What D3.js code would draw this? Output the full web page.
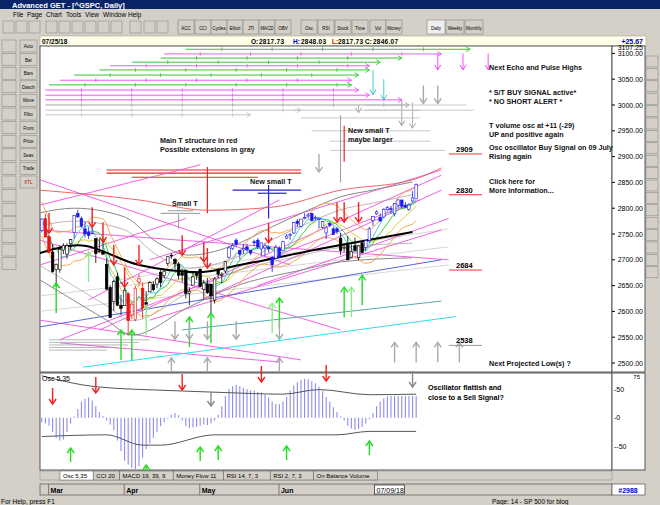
<!DOCTYPE html>
<html><head><meta charset="utf-8">
<script src="https://cdn.jsdelivr.net/npm/d3@7/dist/d3.min.js"></script>
<style>body{margin:0;background:#d4d0c8;}svg{display:block;font-family:"Liberation Sans",Arial,sans-serif;}</style>
</head><body><svg id="c" width="660" height="505"></svg>
<script>
// ---------- DATA ----------
const dates = ("02/26 02/27 02/28 03/01 03/02 03/05 03/06 03/07 03/08 03/09 03/12 03/13 03/14 03/15 03/16 03/19 03/20 03/21 03/22 03/23 03/26 03/27 03/28 03/29 "+
"04/02 04/03 04/04 04/05 04/06 04/09 04/10 04/11 04/12 04/13 04/16 04/17 04/18 04/19 04/20 04/23 04/24 04/25 04/26 04/27 04/30 "+
"05/01 05/02 05/03 05/04 05/07 05/08 05/09 05/10 05/11 05/14 05/15 05/16 05/17 05/18 05/21 05/22 05/23 05/24 05/25 05/29 05/30 05/31 "+
"06/01 06/04 06/05 06/06 06/07 06/08 06/11 06/12 06/13 06/14 06/15 06/18 06/19 06/20 06/21 06/22 06/25 06/26 06/27 06/28 06/29 "+
"07/02 07/03 07/05 07/06 07/09 07/10 07/11 07/12 07/13 07/16 07/17 07/18 07/19 07/20 07/23 07/24 07/25").split(" ");
const open = [2757,2780,2745, 2715,2681,2681,2719,2711,2731,2753,2790,2780,2760,2754,2752,2741,2716,2715,2691,2646,2619,2667,2612,2611,
2634,2593,2584,2657,2645,2617,2638,2652,2653,2676,2670,2693,2709,2701,2692,2675,2680,2635,2651,2675,2682,
2643,2653,2653,2622,2680,2670,2678,2705,2722,2738,2718,2719,2725,2718,2735,2738,2721,2723,2724,2705,2703,2722,
2718,2742,2749,2752,2775,2765,2780,2785,2790,2780,2778,2763,2752,2770,2760,2760,2742,2722,2729,2705,2727,
2704,2733,2724,2738,2776,2789,2782,2783,2797,2799,2789,2806,2816,2805,2798,2814,2818];
const high = [2780,2789,2747, 2730,2693,2728,2732,2732,2740,2787,2797,2784,2774,2764,2762,2741,2740,2740,2703,2651,2661,2675,2632,2660,
2638,2618,2650,2672,2656,2639,2659,2658,2666,2680,2683,2707,2713,2703,2696,2683,2669,2647,2677,2676,2682,
2661,2665,2653,2666,2684,2676,2698,2726,2732,2742,2719,2731,2731,2719,2739,2742,2733,2732,2727,2707,2729,2726,
2737,2750,2752,2772,2779,2779,2790,2791,2791,2786,2782,2775,2766,2774,2764,2764,2752,2732,2746,2730,2743,
2729,2737,2737,2764,2784,2796,2790,2800,2804,2804,2810,2817,2816,2812,2809,2833,2848];
const low = [2753,2744,2713, 2675,2648,2675,2711,2702,2720,2741,2782,2762,2743,2740,2750,2694,2714,2709,2642,2588,2601,2610,2593,2611,
2553,2585,2581,2649,2586,2606,2640,2639,2645,2647,2664,2688,2702,2682,2662,2657,2625,2612,2653,2661,2648,
2625,2634,2594,2615,2664,2655,2674,2702,2719,2725,2701,2711,2716,2709,2726,2721,2708,2707,2714,2676,2702,2704,
2718,2740,2739,2750,2763,2763,2780,2780,2775,2776,2761,2760,2740,2763,2748,2750,2709,2716,2699,2703,2718,
2699,2714,2716,2733,2765,2787,2775,2782,2795,2789,2784,2801,2800,2800,2795,2812,2818];
const close = [2779,2744,2714, 2677,2691,2720,2728,2727,2739,2786,2783,2765,2750,2747,2752,2712,2717,2711,2643,2588,2658,2612,2606,2641,
2582,2614,2645,2663,2604,2613,2656,2642,2663,2656,2678,2706,2708,2693,2670,2670,2635,2639,2667,2670,2648,
2655,2636,2630,2663,2672,2672,2697,2723,2728,2730,2711,2722,2720,2713,2733,2725,2733,2727,2721,2690,2724,2705,
2735,2746,2749,2772,2770,2779,2782,2787,2776,2782,2780,2774,2762,2767,2749,2755,2718,2724,2700,2716,2718,
2727,2714,2737,2760,2784,2793,2775,2798,2801,2798,2809,2816,2804,2802,2806,2820,2846];
const trend = ("brr"+"kkkkkk"+"bbbbbb"+"kkk"+"kkkkkk"+"rrrrr"+"kkkkk"+"kkkkkkkkkkk"+"kkkkkkk"+"bbbbbbbbbbbbbbb"+"bbbbbbbbbbbbbbbb"+"kkkkk"+"kk"+"bbbbbbbbbbbbbbb").split("");
const osc = [-8,-10,-14,-25,-35,-40,-38,-25,-10,2,15,28,33,35,30,20,10,3,-5,-12,-22,-40,-58,-75,-82,-88,-90,-85,-70,-55,-45,-35,-25,-15,-8,-2,5,8,4,-5,-15,-18,-17,-16,-14,-12,-13,-10,-5,5,20,38,50,55,57,55,52,50,48,47,45,44,40,35,28,24,24,28,36,48,56,62,66,68,67,64,60,54,46,36,28,18,10,2,-5,-14,-19,-21,-20,-16,-10,-3,8,20,28,34,37,38,38,38,38,38,38,38,38];
const oscUpper = [[0,73],[15,54],[37,47],[50,44],[67,41],[77,49],[91,40],[104,41]];
const oscLower = [[0,-33],[18,-30],[28,-48],[33,-48],[48,-30],[82,-30],[91,-24],[104,-24]];
const priceTicks = [3100,3050,3000,2950,2900,2850,2800,2750,2700,2650,2600,2550,2500];
const oscTicks = [50,0,-50];
const monthTicks = [["Mar",3],["Apr",24],["May",45],["Jun",67]];
const blackMA = [[-0.5,2713],[10,2728],[27,2690],[44,2676],[55,2690],[80,2725],[103,2754]];
const redBand = [[-0.5,2835],[27,2816],[46,2796],[64,2802],[83,2835],[103,2855],[111,2878]];
const grayUpper = [[-0.5,2791],[9,2800],[23,2783],[32,2734],[41,2709],[55,2733],[64,2764],[74,2796],[83,2822],[92,2835],[103,2851]];
const grayLower = [[-0.5,2661],[18,2583],[25,2554],[41,2609],[53,2647],[72,2680],[83,2696],[103,2704]];
const trendLines = [[-0.5,2855,69,2690],[-0.5,2738,83,2564],[-0.5,2583,72,2506],[5,2545,105,2816],[16,2564,111,2864],[30,2583,111,2758],
[44,2622,111,2835],[13,2622,66,2816],[-0.5,2758,113,2700],[5,2539,66,2502],[-0.5,2806,44,2884],[30,2700,111,2874],[60,2650,113,2780],[-0.5,2690,40,2780]];
const grayLines = [[-0.5,2630,113,2725],[-0.5,2600,113,2690],[20,2660,113,2760]];
const blueLine = [-0.5,2570,111,2700];
const cyanLine = [11.5,2492,115,2590];
const tealLine = [39,2564,111,2620];
const redDown = [[2,2752],[14,2763],[17,2734],[20,2690],[23,2647],[27,2690],[39,2709],[45,2696],[46,2684],[63,2733],[82,2773],[84,2773],[88,2773]];
const greenUp = [[4,2655],[13,2715],[22,2564],[25,2564],[29,2612],[41,2589],[47,2597],[64,2616],[66,2626],[84,2647],[86,2647],[89,2670]];
const grayDown = [[37,2546],[41,2546],[46,2546],[54,2546],[66,2546],[77,2870],[106,3003],[110,3003]];
const grayUp = [[36,2510],[46,2510],[66,2510],[98,2540],[104,2540],[110,2540],[116,2540]];
const pulseRows = [[3108,40,119,"#22bb22"],[3099,34,111,"#ee44ee"],[3091,33,100,"#22bb22"],[3083,25,94,"#22bb22"],[3076,19,91,"#ee44ee"],
[3068,16,91,"#22bb22"],[3058,9,88,"#22bb22"],[3048,5,86,"#ee44ee"],[3039,2,86,"#22bb22"],[3029,1,88,"#ee44ee"],[3019,1,91,"#ee44ee"],
[3010,1,100,"#ee44ee"],[3000,1,102,"#999"],[2990,1,72,"#bbb"],[2981,1,58,"#bbb"]];
const levels = [["2909",2909,"#e33"],["2830",2830,"#e33"],["2684",2684,"#e33"],["2538",2538,"#999"]];
const oscRed = [3,15,39,61,79]; const oscGray=[47,103]; const oscGreen=[8,29,44,49,68,91];

// ---------- SCALES ----------
const svg = d3.select("#c");
const L=40,R=612,T=46,B=372;
const x = d3.scaleLinear().domain([-0.5,158.4]).range([L,R]);
const y = d3.scaleLinear().domain([2500,3100]).range([363,53.4]);
const yo = d3.scaleLinear().domain([-50,50]).range([446.3,389]);

// ---------- WINDOW CHROME ----------
svg.append("rect").attr("width",660).attr("height",505).attr("fill","#d4d0c8");
svg.append("rect").attr("width",660).attr("height",9).attr("fill","#0a246a");
svg.append("text").attr("x",12).attr("y",7.5).attr("font-size",7.5).attr("font-weight","bold").attr("fill","#fff").text("Advanced GET - [^GSPC, Daily]");
["File","Page","Chart","Tools","View","Window","Help"].forEach((m,i)=>svg.append("text").attr("x",[13,27,46,66,85,103,128][i]).attr("y",17).attr("font-size",6.5).text(m));
const tb=[["ACC",178],["CCI",195],["Cycles",211],["Elliott",227],["JTI",243],["MACD",259],["OBV",275],["Osc",301],["RSI",318],["Stock",335],["Time",352],["Vol",370],["Money",386]];
tb.forEach(d=>{svg.append("rect").attr("x",d[1]).attr("y",20).attr("width",16).attr("height",14).attr("fill","#d4d0c8").attr("stroke","#808080").attr("stroke-width",0.6);
 svg.append("text").attr("x",d[1]+8).attr("y",29.5).attr("text-anchor","middle").attr("font-size",4.5).text(d[0]);});
[3,16,29,46,59,72,85,98,111,130,144,157].forEach(px=>svg.append("rect").attr("x",px).attr("y",21).attr("width",11).attr("height",12).attr("fill","#d4d0c8").attr("stroke","#808080").attr("stroke-width",0.5));
[["Daily",427],["Weekly",446],["Monthly",465]].forEach(d=>{svg.append("rect").attr("x",d[1]).attr("y",20).attr("width",18).attr("height",14).attr("fill",d[0]=="Daily"?"#eee":"#d4d0c8").attr("stroke","#808080").attr("stroke-width",0.6);
 svg.append("text").attr("x",d[1]+9).attr("y",29.5).attr("text-anchor","middle").attr("font-size",4.5).text(d[0]);});
// left toolbar
const lb=["Auto","Bar","Bars","Dasch","Move","Fibo","Front","Price","Seas","Trade","XTL"];
lb.forEach((t,i)=>{svg.append("rect").attr("x",20).attr("y",40+i*13.6).attr("width",17).attr("height",12).attr("fill","#d4d0c8").attr("stroke","#808080").attr("stroke-width",0.5);
 svg.append("text").attr("x",28.5).attr("y",48+i*13.6).attr("text-anchor","middle").attr("font-size",4.5).attr("fill",t=="XTL"?"#c00":"#000").text(t);});
for(let i=0;i<17;i++) svg.append("rect").attr("x",2).attr("y",40+i*13.6).attr("width",14).attr("height",12).attr("fill","#d4d0c8").attr("stroke","#808080").attr("stroke-width",0.5);
for(let i=0;i<18;i++) svg.append("rect").attr("x",646).attr("y",56+i*12.4).attr("width",12).attr("height",11).attr("fill","#d4d0c8").attr("stroke","#808080").attr("stroke-width",0.5);
// info bar
svg.append("rect").attr("x",L).attr("y",36).attr("width",606).attr("height",10).attr("fill","#ffffe8").attr("stroke","#999").attr("stroke-width",0.5);
svg.append("text").attr("x",42).attr("y",44).attr("font-size",6.5).attr("font-weight","bold").text("07/25/18");
const info=[["O:",251,"#000"],["2817.73",259,"#000"],["H:",293,"#00c"],["2848.03",301,"#000"],["L:",332,"#c00"],["2817.73",338,"#000"],["C:",365,"#000"],["2846.07",373,"#000"]];
info.forEach(d=>svg.append("text").attr("x",d[1]).attr("y",44).attr("font-size",6.5).attr("font-weight","bold").attr("fill",d[2]).attr("textLength",d[0].length>3?25:null).text(d[0]));
svg.append("text").attr("x",643).attr("y",44).attr("text-anchor","end").attr("font-size",7).attr("font-weight","bold").attr("fill","#00c").text("+25.67");

// ---------- MAIN PANEL ----------
svg.append("rect").attr("x",L).attr("y",T).attr("width",R-L).attr("height",B-T).attr("fill","#fff").attr("stroke","#555");
svg.append("rect").attr("x",R).attr("y",T).attr("width",33).attr("height",B-T).attr("fill","#fff").attr("stroke","#555");
const g = svg.append("g");
g.append("clipPath").attr("id","cp").append("rect").attr("x",L).attr("y",T).attr("width",R-L).attr("height",B-T);
const m = g.append("g").attr("clip-path","url(#cp)");
const seg=(d,c,w,op)=>m.append("line").attr("x1",x(d[0])).attr("y1",y(d[1])).attr("x2",x(d[2])).attr("y2",y(d[3])).attr("stroke",c).attr("stroke-width",w||0.8).attr("opacity",op||1);
const curve=(pts,c,w,op)=>m.append("path").attr("d",d3.line().x(p=>x(p[0])).y(p=>y(p[1])).curve(d3.curveMonotoneX)(pts)).attr("fill","none").attr("stroke",c).attr("stroke-width",w).attr("opacity",op||1);

pulseRows.forEach(r=>{seg([r[1],r[0],r[2],r[0]],r[3],0.9);
 const xe=x(r[2]),ye=y(r[0]);
 m.append("path").attr("d",`M${xe-4},${ye-2.5}L${xe},${ye}L${xe-4},${ye+2.5}`).attr("fill","none").attr("stroke",r[3]).attr("stroke-width",0.8);
 for(let k=r[1]+10;k<r[2]-3;k+=14) m.append("line").attr("x1",x(k)).attr("x2",x(k)).attr("y1",ye-2).attr("y2",ye+2).attr("stroke",r[3]).attr("stroke-width",0.7);});
[[92,3068,3020,"#3cc"],[95,3050,3010,"#3cc"],[100,3010,2960,"#999"],[103,3005,2955,"#aaa"],[110,3100,3068,"#e4e"],[117,3100,3068,"#e4e"],[124,3100,3068,"#e4e"],[88,3000,2985,"#aaa"]].forEach(a=>{
 seg([a[0],a[1],a[0],a[2]],a[3],0.9); const xe=x(a[0]),ye=y(a[2]);
 m.append("path").attr("d",`M${xe-3},${ye-5}L${xe},${ye}L${xe+3},${ye-5}`).attr("fill","none").attr("stroke",a[3]);});
[[70,2990,105,2990],[72,2975,105,2975],[75,2950,108,2950],[80,2930,108,2930],[90,2990,120,2990],[90,3000,118,3000],[80,2912,112,2912]].forEach(d=>seg(d,"#bbb",0.8));
[[18,2874,72,2874],[18,2868,72,2868],[25,2860,60,2860]].forEach(d=>seg(d,"#e22",1.2));
seg([46,2880,46,2790],"#e22",1.2); seg([84,2960,84,2890],"#e22",1.2);
[[53,2835,72,2835],[60,2829,68,2829]].forEach(d=>seg(d,"#22c",1.2)); seg([63,2845,63,2780],"#22c",1.2);
[[35,2795,42,2795],[33,2790,44,2790]].forEach(d=>seg(d,"#999",1)); seg([38,2788,38,2760],"#999",1);
seg([83,2980,83,2850],"#999",1);
grayLines.forEach(d=>seg(d,"#ccc",0.8));
trendLines.forEach(d=>seg(d,"#f050e0",0.9));
seg(blueLine,"#5566dd",1); seg(cyanLine,"#33ddee",1); seg(tealLine,"#55aaaa",1);
curve(redBand,"#e55",0.9); curve(grayUpper,"#888",1); curve(grayLower,"#888",1);
curve(grayUpper.map(p=>[p[0],p[1]-25]),"#a88",0.8,0.8); curve(grayLower.map(p=>[p[0],p[1]+28]),"#999",0.8,0.8);
const ma=(n)=>close.map((c,i)=>{const s=close.slice(Math.max(0,i-n+1),i+1);return [i,d3.mean(s)];});
const env=ma(10);
curve(env.map(p=>[p[0],p[1]*1.012]),"#f0a040",0.9); curve(env.map(p=>[p[0],p[1]*0.988]),"#f0a040",0.9);
curve(ma(13),"#e0d030",1); curve(ma(8),"#33cc33",1); curve(ma(5),"#44cccc",1);
curve(blackMA,"#000",2);
const col={b:"#1a1aee",r:"#ee1111",k:"#000"};
dates.forEach((d,i)=>{const c=col[trend[i]];const xc=x(i);
 m.append("line").attr("x1",xc).attr("x2",xc).attr("y1",y(high[i])).attr("y2",y(low[i])).attr("stroke",c).attr("stroke-width",0.8);
 const t=y(Math.max(open[i],close[i])),b=y(Math.min(open[i],close[i]));
 m.append("rect").attr("x",xc-1.3).attr("y",t).attr("width",2.6).attr("height",Math.max(0.8,b-t)).attr("fill",close[i]>=open[i]?"#fff":c).attr("stroke",c).attr("stroke-width",0.6);});
const arrow=(i,p,dir,c,len)=>{const xc=x(i),yt=y(p);const ys=yt+(dir>0?len:-len);
 m.append("line").attr("x1",xc).attr("x2",xc).attr("y1",yt).attr("y2",ys).attr("stroke",c).attr("stroke-width",1.4);
 const h=dir>0?5:-5; m.append("path").attr("d",`M${xc-3.5},${yt+h}L${xc},${yt}L${xc+3.5},${yt+h}`).attr("fill","none").attr("stroke",c).attr("stroke-width",1.4);};
redDown.forEach(a=>arrow(a[0],a[1],-1,"#ee2222",20));
greenUp.forEach((a,k)=>arrow(a[0],a[1],1,k%3==1?"#88ee88":"#22dd22",30));
grayDown.forEach(a=>arrow(a[0],a[1],-1,"#aaa",18));
grayUp.forEach(a=>arrow(a[0],a[1],1,"#aaa",20));
levels.forEach(l=>{m.append("line").attr("x1",449).attr("x2",482).attr("y1",y(l[1])+2).attr("y2",y(l[1])+2).attr("stroke",l[2]).attr("stroke-width",1);
 m.append("text").attr("x",456).attr("y",y(l[1])).attr("font-size",7.5).attr("font-weight","bold").text(l[0]);});
[2545,2540,2535,2530,2525].forEach((p,k)=>seg([2,p,30-k*3,p],"#999",0.7));
const ann=[["Next Echo and Pulse Highs",489,70],["* S/T BUY SIGNAL active*",489,95],["* NO SHORT ALERT *",489,104],["T volume osc at +11 (-29)",489,128],["UP and positive again",489,137],
["Osc oscillator Buy Signal on 09 July",489,150],["Rising again",489,159],["Click here for",489,184],["More Information...",489,193],["Next Projected Low(s) ?",489,366],
["Main T structure in red",160,143],["Possible extensions in gray",160,152],["New small T",348,133],["maybe larger",348,142],["New small T",250,184],["Small T",172,206]];
ann.forEach(a=>g.append("text").attr("x",a[1]).attr("y",a[2]).attr("font-size",7.2).attr("font-weight","bold").attr("fill","#111").text(a[0]));
priceTicks.forEach(p=>{g.append("text").attr("x",643).attr("y",y(p)+2.5).attr("text-anchor","end").attr("font-size",7).text(p.toFixed(2));
 g.append("line").attr("x1",R).attr("x2",R+3).attr("y1",y(p)).attr("y2",y(p)).attr("stroke","#000");});
g.append("text").attr("x",643).attr("y",50).attr("text-anchor","end").attr("font-size",7).text("3107.25");

// ---------- OSC PANEL ----------
const OT=373,OB=470;
svg.append("rect").attr("x",L).attr("y",OT).attr("width",R-L).attr("height",OB-OT).attr("fill","#fff").attr("stroke","#555");
svg.append("rect").attr("x",R).attr("y",OT).attr("width",33).attr("height",OB-OT).attr("fill","#fff").attr("stroke","#555");
const o=svg.append("g");
osc.forEach((v,i)=>o.append("line").attr("x1",x(i)).attr("x2",x(i)).attr("y1",yo(0)).attr("y2",yo(v)).attr("stroke","#8c8cf0").attr("stroke-width",1.1));
const ol=d3.line().x(p=>x(p[0])).y(p=>yo(p[1])).curve(d3.curveMonotoneX);
o.append("path").attr("d",ol(oscUpper)).attr("fill","none").attr("stroke","#555").attr("stroke-width",1);
o.append("path").attr("d",ol(oscLower)).attr("fill","none").attr("stroke","#555").attr("stroke-width",1);
const oarrow=(i,yt,dir,c,len)=>{const xc=x(i);const ys=yt+(dir>0?len:-len);
 o.append("line").attr("x1",xc).attr("x2",xc).attr("y1",yt).attr("y2",ys).attr("stroke",c).attr("stroke-width",1.4);
 const h=dir>0?5:-5; o.append("path").attr("d",`M${xc-3.5},${yt+h}L${xc},${yt}L${xc+3.5},${yt+h}`).attr("fill","none").attr("stroke",c).attr("stroke-width",1.4);};
oscRed.forEach((i,k)=>oarrow(i,[404,393,390,382,381][k],-1,"#ee2222",16));
oarrow(47,406,-1,"#888",14); oarrow(103,387,-1,"#888",16);
oscGreen.forEach((i,k)=>oarrow(i,[448,465,447,446,446,441][k],1,"#22dd22",14));
o.append("text").attr("x",42).attr("y",381).attr("font-size",7).text("Osc 5,35");
o.append("text").attr("x",428).attr("y",390).attr("font-size",7.2).attr("font-weight","bold").text("Oscillator flattish and");
o.append("text").attr("x",428).attr("y",400).attr("font-size",7.2).attr("font-weight","bold").text("close to a Sell Signal?");
oscTicks.forEach(v=>o.append("text").attr("x",614).attr("y",yo(v)+2.5).attr("font-size",7).text("-"+v));
o.append("text").attr("x",640).attr("y",379).attr("text-anchor","end").attr("font-size",6).text("75");
const tabs=["Osc 5,35","CCI 20","MACD 19, 39, 9","Money Flow 11","RSI 14, 7, 3","RSI 2, 7, 3","On Balance Volume"];
let tx=60; svg.append("rect").attr("x",L).attr("y",471).attr("width",R-L).attr("height",9).attr("fill","#d4d0c8").attr("stroke","#888").attr("stroke-width",0.5);
tabs.forEach((t,i)=>{const w=t.length*3.4+6; svg.append("rect").attr("x",tx).attr("y",471).attr("width",w).attr("height",9).attr("fill",i==0?"#fff":"#d4d0c8").attr("stroke","#555").attr("stroke-width",0.5);
 svg.append("text").attr("x",tx+3).attr("y",478).attr("font-size",6).text(t); tx+=w;});
svg.append("rect").attr("x",L).attr("y",484).attr("width",R-L).attr("height",11).attr("fill","#d4d0c8").attr("stroke","#555").attr("stroke-width",0.7);
monthTicks.forEach(d=>{svg.append("text").attr("x",x(d[1])-2).attr("y",492.5).attr("font-size",7).attr("font-weight","bold").text(d[0]);
 svg.append("line").attr("x1",x(d[1])-4).attr("x2",x(d[1])-4).attr("y1",484).attr("y2",495).attr("stroke","#777");});
svg.append("rect").attr("x",x(93)-2).attr("y",485).attr("width",30).attr("height",9).attr("fill","#fff").attr("stroke","#000").attr("stroke-width",0.6);
svg.append("text").attr("x",x(93)).attr("y",492.5).attr("font-size",7).text("07/09/18");
svg.append("rect").attr("x",R).attr("y",484).attr("width",33).attr("height",11).attr("fill","#fff").attr("stroke","#555").attr("stroke-width",0.7);
svg.append("text").attr("x",628).attr("y",492.5).attr("text-anchor","middle").attr("font-size",7).attr("font-weight","bold").attr("fill","#00c").text("#2988");
svg.append("text").attr("x",1).attr("y",503.5).attr("font-size",6.5).text("For Help, press F1");
svg.append("text").attr("x",492).attr("y",503.5).attr("font-size",6.5).text("Page: 14 - SP 500 for blog");
</script></body></html>
